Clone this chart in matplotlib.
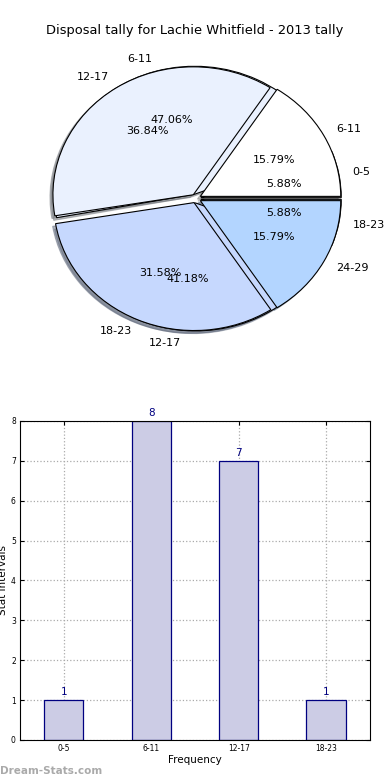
import matplotlib
matplotlib.use("Agg")
import matplotlib.pyplot as plt

title = "Disposal tally for Lachie Whitfield - 2013 tally"

# first pie (also the bar chart)
ranges_a = ['0-5', '6-11', '12-17', '18-23']
counts_a = [1, 8, 7, 1]

# second pie
ranges_b = ['6-11', '12-17', '18-23', '24-29']
counts_b = [3, 7, 6, 3]

pie_colors = ['#ffffff', '#eaf1fe', '#c6d8fe', '#b3d5ff']

fig = plt.figure(figsize=(3.9, 7.8), dpi=100)

# ---- pie ----
ax1 = fig.add_axes([0.0526, 0.5405, 0.900, 0.410])
wp = dict(edgecolor='black', linewidth=0.8)
for vals, labs in ((counts_a, ranges_a), (counts_b, ranges_b)):
    ax1.pie(vals, labels=labs, colors=pie_colors, autopct='%.2f%%',
            explode=[0.035] * len(vals),
            shadow={'ox': -0.015, 'oy': -0.015, 'shade': 0.5},
            startangle=0, wedgeprops=wp, textprops=dict(fontsize=8))
ax1.set_aspect('auto')
ax1.set_xlim(-1.25, 1.25)
ax1.set_ylim(-1.25, 1.25)
fig.text(0.5, 0.961, title, ha='center', va='center', fontsize=9.4)

# ---- bars ----
ax2 = fig.add_axes([0.0513, 0.0513, 0.897, 0.409])
x = list(range(len(ranges_a)))
bars = ax2.bar(x, counts_a, width=0.45, color='#ccccE5', edgecolor='#000080',
               linewidth=0.9, zorder=2)
for b, v in zip(bars, counts_a):
    ax2.text(b.get_x() + b.get_width() / 2, v + 0.08, str(v), ha='center',
             va='bottom', color='#000080', fontsize=7.5)
ax2.set_xlim(-0.5, 3.5)
ax2.set_ylim(0, 8)
ax2.set_xticks(x)
ax2.set_xticklabels(ranges_a, fontsize=5.5)
ax2.set_yticks(range(9))
ax2.tick_params(axis='y', labelsize=5.5)
ax2.tick_params(direction='in', top=True, right=True, length=3, pad=3)
ax2.grid(True, linestyle=':', color='#aaaaaa', linewidth=0.9, zorder=0)
ax2.set_axisbelow(True)
ax2.set_xlabel('Frequency', fontsize=7.5, labelpad=1)
fig.text(0.008, 0.256, 'Stat Intervals', rotation=90, ha='center',
         va='center', fontsize=7.5)
fig.text(0.0, 0.012, 'Dream-Stats.com', ha='left', va='center',
         fontsize=7.5, color='#aaaaaa', fontweight='bold')

fig.savefig('out.png', dpi=100)
